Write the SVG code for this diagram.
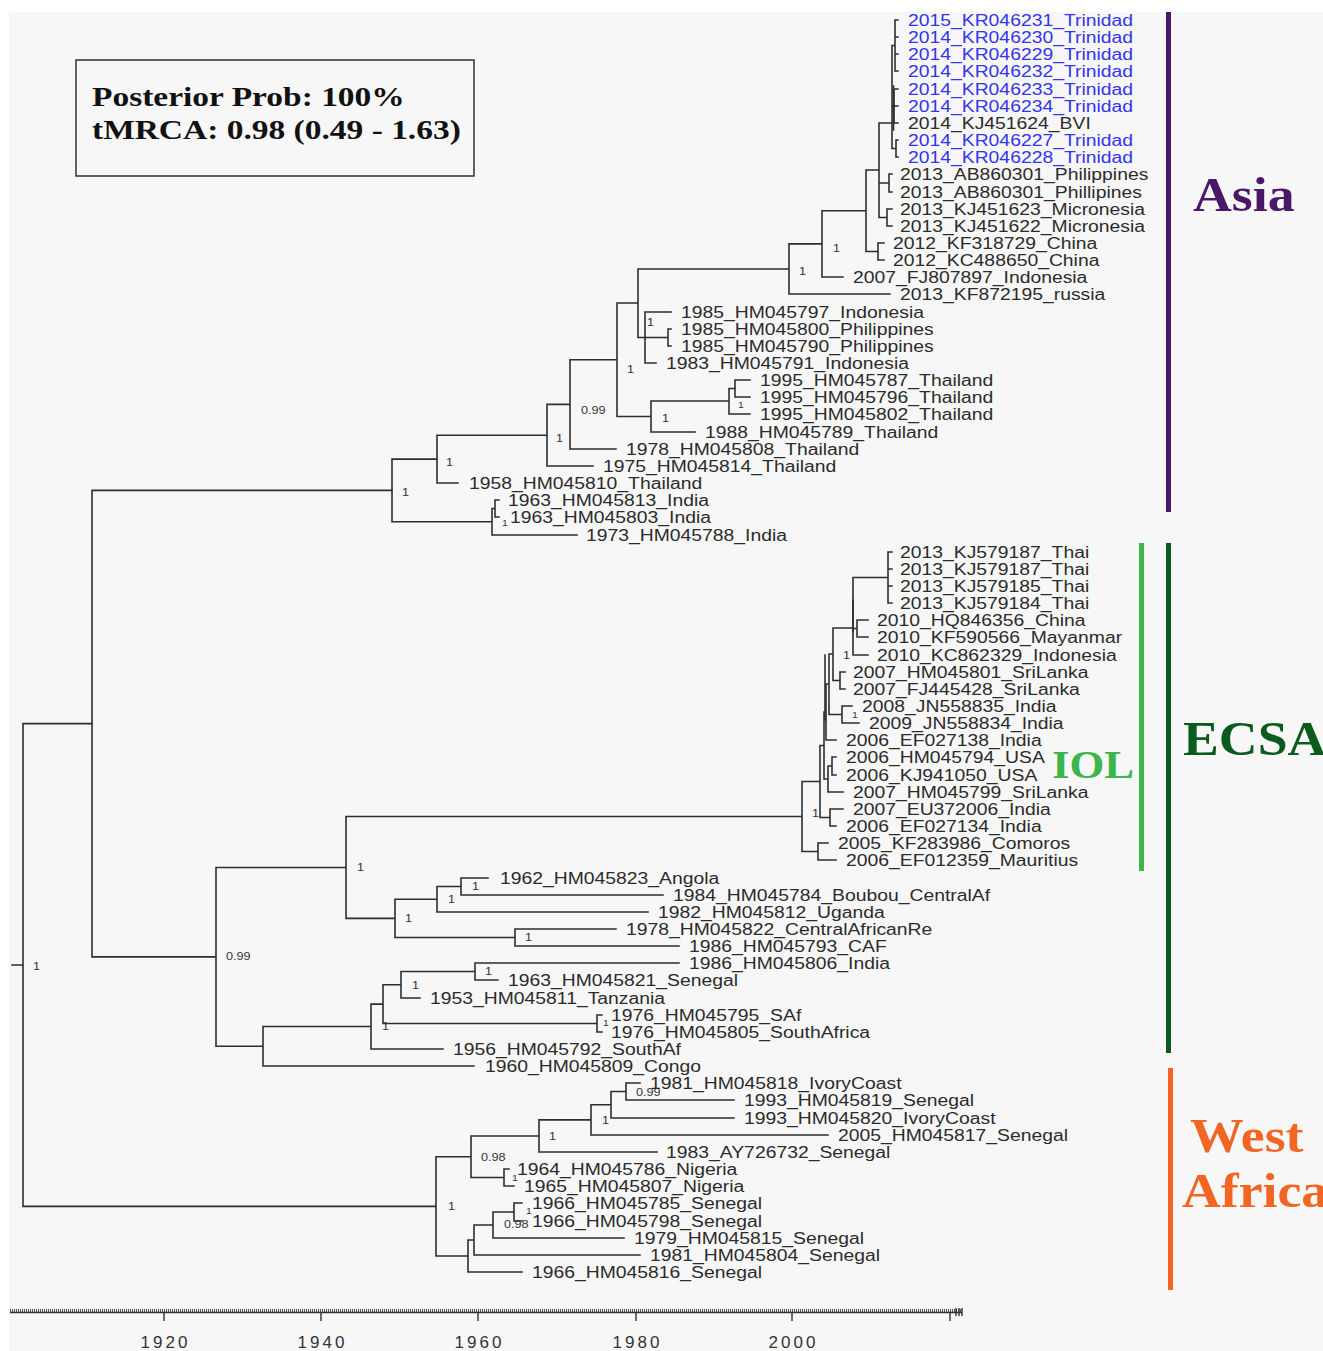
<svg xmlns="http://www.w3.org/2000/svg" width="1323" height="1351" viewBox="0 0 1323 1351">
<style>
.br{fill:none;stroke:#2e2e2e;stroke-width:1.6;stroke-linecap:square}
.lf{font-family:"Liberation Sans",Arial,sans-serif;font-size:16.4px;fill:#2b2b2b;transform-box:fill-box;transform-origin:0 50%;transform:scaleX(1.18)}
.tr{fill:#3434f0}
.sp{font-family:"Liberation Sans",Arial,sans-serif;font-size:11.5px;fill:#333;transform-box:fill-box;transform-origin:0 50%;transform:scaleX(1.1)}
.sm{font-size:9.5px}
.ax{font-family:"Liberation Sans",Arial,sans-serif;font-size:17px;fill:#333;text-anchor:middle;letter-spacing:3px}
.box{font-family:"Liberation Serif","Times New Roman",serif;font-weight:bold;font-size:28px;fill:#111;transform-box:fill-box;transform-origin:0 50%;transform:scaleX(1.195)}
.grp{font-family:"Liberation Serif","Times New Roman",serif;font-weight:bold;font-size:48px;transform-box:fill-box;transform-origin:0 50%;transform:scaleX(1.12)}
</style>
<rect x="0" y="0" width="1323" height="1351" fill="#ffffff"/>
<rect x="9" y="12" width="1314" height="1339" fill="#f7f7f7"/>

<g id="legend-box">
<rect x="76" y="60" width="398" height="116" fill="none" stroke="#333" stroke-width="1.5"/>
<text class="box" x="92" y="106">Posterior Prob: 100%</text>
<text class="box" x="92" y="139">tMRCA: 0.98 (0.49 - 1.63)</text>
</g>

<g id="connectors">
<path class="br" d="M895,20V71 M895,20H898 M895,37H898 M895,54H898 M895,71H898 M894,89V123 M894,89H898 M894,106H898 M894,123H898 M896,140V157 M896,140H898 M896,157H898 M892,45.5V148.5 M892,45.5H895 M892,106H894 M892,148.5H896 M879,123V217.5 M879,123H892 M879,183H889 M879,217.5H887 M889,174V192 M889,174H892 M889,192H892 M887,209V226 M887,209H892 M887,226H892 M878,243V260 M878,243H884 M878,260H884 M866,170V251.5 M866,170H879 M866,251.5H878 M822,210.75V277 M822,210.75H866 M822,277H843 M789,243.9V294 M789,243.9H822 M789,294H890 M645,312V363 M645,312H671 M645,337.5H668 M645,363H656 M668,329V346 M668,329H671 M668,346H671 M638,269V337.5 M638,269H789 M638,337.5H645 M735,380V397 M735,380H750 M735,397H750 M729,388.5V414 M729,388.5H735 M729,414H750 M651,401V432 M651,401H729 M651,432H695 M617,303V416.5 M617,303H638 M617,416.5H651 M570,359.75V449 M570,359.75H617 M570,449H616 M547,404.4V466 M547,404.4H570 M547,466H593 M437,435.2V483 M437,435.2H547 M437,483H458 M495,500V517 M495,500H499 M495,517H499 M492,508.5V535 M492,508.5H495 M492,535H577 M392,459.1V521.75 M392,459.1H437 M392,521.75H492"/>
<path class="br" stroke-width="3.5" d="M893.5,86V130"/>
<path class="br" d="M888,552V603 M888,552H892 M888,569H892 M888,586H892 M888,603H892 M857,620V637 M857,620H868 M857,637H868 M853,577.5V655 M853,577.5H888 M853,628.5H857 M853,655H868 M840,672V689 M840,672H845 M840,689H845 M842,706V723 M842,706H852 M842,723H859 M832,757V775 M832,757H836 M832,775H836 M830,809V826 M830,809H843 M830,826H836 M818,843V860 M818,843H828 M818,860H836 M833,628V680.5 M833,628H853 M833,680.5H840 M829,654V714.5 M829,654H833 M829,714.5H842 M826,684V740 M826,684H829 M826,740H836 M828,766V792 M828,766H832 M828,792H843 M824,712V779 M824,712H826 M824,779H828 M820,745.5V817.5 M820,745.5H824 M820,817.5H830 M802,781.5V851.5 M802,781.5H820 M802,851.5H818 M461,878V895 M461,878H488 M461,895H663 M437,886.5V912 M437,886.5H461 M437,912H648 M515,929V946 M515,929H616 M515,946H679 M395,899.25V937.5 M395,899.25H437 M395,937.5H515 M346,816.5V918.4 M346,816.5H802 M346,918.4H395 M475,963V980 M475,963H679 M475,980H498 M401,971.5V998 M401,971.5H475 M401,998H420 M597,1015V1032 M597,1015H602 M597,1032H602 M383,984.75V1023.5 M383,984.75H401 M383,1023.5H597 M371,1004.1V1049 M371,1004.1H383 M371,1049H443 M263,1026.5V1066 M263,1026.5H371 M263,1066H474 M216,867.5V1046.25 M216,867.5H346 M216,1046.25H263 M92,490.4V956.9 M92,490.4H392 M92,956.9H216"/>
<path class="br" stroke-width="2.6" d="M853,600V632 M825,655V720"/>
<path class="br" d="M626,1083V1100 M626,1083H640 M626,1100H734 M611,1091.5V1118 M611,1091.5H626 M611,1118H734 M591,1104.75V1135 M591,1104.75H611 M591,1135H828 M539,1119.9V1152 M539,1119.9H591 M539,1152H657 M504,1169V1186 M504,1169H509 M504,1186H514 M471,1136V1177.5 M471,1136H539 M471,1177.5H504 M514,1203V1221 M514,1203H522 M514,1221H522 M493,1212V1238 M493,1212H514 M493,1238H624 M474,1225V1255 M474,1225H493 M474,1255H640 M468,1240V1272 M468,1240H474 M468,1272H522 M436,1156.75V1256 M436,1156.75H471 M436,1256H468 M23,723.6V1206.4 M23,723.6H92 M23,1206.4H436 M12,965H23"/>
</g>

<g id="support-labels">
<text class="sp" x="33" y="970">1</text>
<text class="sp" x="402" y="496">1</text>
<text class="sp" x="446" y="466">1</text>
<text class="sp" x="556" y="442">1</text>
<text class="sp" x="581" y="414">0.99</text>
<text class="sp" x="627" y="373">1</text>
<text class="sp" x="647" y="326">1</text>
<text class="sp" x="662" y="422">1</text>
<text class="sp sm" x="738" y="408">1</text>
<text class="sp" x="799" y="275">1</text>
<text class="sp" x="833" y="252">1</text>
<text class="sp sm" x="502" y="526">1</text>
<text class="sp" x="843" y="659">1</text>
<text class="sp sm" x="852" y="718">1</text>
<text class="sp" x="812" y="817">1</text>
<text class="sp" x="357" y="871">1</text>
<text class="sp" x="472" y="890">1</text>
<text class="sp" x="448" y="903">1</text>
<text class="sp" x="405" y="922">1</text>
<text class="sp" x="525" y="941">1</text>
<text class="sp" x="485" y="975">1</text>
<text class="sp" x="412" y="989">1</text>
<text class="sp" x="382" y="1030">1</text>
<text class="sp sm" x="603" y="1026">1</text>
<text class="sp" x="226" y="960">0.99</text>
<text class="sp" x="636" y="1096">0.99</text>
<text class="sp" x="602" y="1124">1</text>
<text class="sp" x="549" y="1140">1</text>
<text class="sp" x="481" y="1161">0.98</text>
<text class="sp sm" x="512" y="1181">1</text>
<text class="sp sm" x="526" y="1214">1</text>
<text class="sp" x="504" y="1228">0.98</text>
<text class="sp" x="448" y="1210">1</text>
</g>

<g id="leaves">
<g id="leaf1"><text class="lf tr" x="908" y="26">2015_KR046231_Trinidad</text></g>
<g id="leaf2"><text class="lf tr" x="908" y="43">2014_KR046230_Trinidad</text></g>
<g id="leaf3"><text class="lf tr" x="908" y="60">2014_KR046229_Trinidad</text></g>
<g id="leaf4"><text class="lf tr" x="908" y="77">2014_KR046232_Trinidad</text></g>
<g id="leaf5"><text class="lf tr" x="908" y="95">2014_KR046233_Trinidad</text></g>
<g id="leaf6"><text class="lf tr" x="908" y="112">2014_KR046234_Trinidad</text></g>
<g id="leaf7"><text class="lf" x="908" y="129">2014_KJ451624_BVI</text></g>
<g id="leaf8"><text class="lf tr" x="908" y="146">2014_KR046227_Trinidad</text></g>
<g id="leaf9"><text class="lf tr" x="908" y="163">2014_KR046228_Trinidad</text></g>
<g id="leaf10"><text class="lf" x="900" y="180">2013_AB860301_Philippines</text></g>
<g id="leaf11"><text class="lf" x="900" y="198">2013_AB860301_Phillipines</text></g>
<g id="leaf12"><text class="lf" x="900" y="215">2013_KJ451623_Micronesia</text></g>
<g id="leaf13"><text class="lf" x="900" y="232">2013_KJ451622_Micronesia</text></g>
<g id="leaf14"><text class="lf" x="893" y="249">2012_KF318729_China</text></g>
<g id="leaf15"><text class="lf" x="893" y="266">2012_KC488650_China</text></g>
<g id="leaf16"><text class="lf" x="853" y="283">2007_FJ807897_Indonesia</text></g>
<g id="leaf17"><text class="lf" x="900" y="300">2013_KF872195_russia</text></g>
<g id="leaf18"><text class="lf" x="681" y="318">1985_HM045797_Indonesia</text></g>
<g id="leaf19"><text class="lf" x="681" y="335">1985_HM045800_Philippines</text></g>
<g id="leaf20"><text class="lf" x="681" y="352">1985_HM045790_Philippines</text></g>
<g id="leaf21"><text class="lf" x="666" y="369">1983_HM045791_Indonesia</text></g>
<g id="leaf22"><text class="lf" x="760" y="386">1995_HM045787_Thailand</text></g>
<g id="leaf23"><text class="lf" x="760" y="403">1995_HM045796_Thailand</text></g>
<g id="leaf24"><text class="lf" x="760" y="420">1995_HM045802_Thailand</text></g>
<g id="leaf25"><text class="lf" x="705" y="438">1988_HM045789_Thailand</text></g>
<g id="leaf26"><text class="lf" x="626" y="455">1978_HM045808_Thailand</text></g>
<g id="leaf27"><text class="lf" x="603" y="472">1975_HM045814_Thailand</text></g>
<g id="leaf28"><text class="lf" x="469" y="489">1958_HM045810_Thailand</text></g>
<g id="leaf29"><text class="lf" x="508" y="506">1963_HM045813_India</text></g>
<g id="leaf30"><text class="lf" x="510" y="523">1963_HM045803_India</text></g>
<g id="leaf31"><text class="lf" x="586" y="541">1973_HM045788_India</text></g>
<g id="leaf32"><text class="lf" x="900" y="558">2013_KJ579187_Thai</text></g>
<g id="leaf33"><text class="lf" x="900" y="575">2013_KJ579187_Thai</text></g>
<g id="leaf34"><text class="lf" x="900" y="592">2013_KJ579185_Thai</text></g>
<g id="leaf35"><text class="lf" x="900" y="609">2013_KJ579184_Thai</text></g>
<g id="leaf36"><text class="lf" x="877" y="626">2010_HQ846356_China</text></g>
<g id="leaf37"><text class="lf" x="877" y="643">2010_KF590566_Mayanmar</text></g>
<g id="leaf38"><text class="lf" x="877" y="661">2010_KC862329_Indonesia</text></g>
<g id="leaf39"><text class="lf" x="853" y="678">2007_HM045801_SriLanka</text></g>
<g id="leaf40"><text class="lf" x="853" y="695">2007_FJ445428_SriLanka</text></g>
<g id="leaf41"><text class="lf" x="862" y="712">2008_JN558835_India</text></g>
<g id="leaf42"><text class="lf" x="869" y="729">2009_JN558834_India</text></g>
<g id="leaf43"><text class="lf" x="846" y="746">2006_EF027138_India</text></g>
<g id="leaf44"><text class="lf" x="846" y="763">2006_HM045794_USA</text></g>
<g id="leaf45"><text class="lf" x="846" y="781">2006_KJ941050_USA</text></g>
<g id="leaf46"><text class="lf" x="853" y="798">2007_HM045799_SriLanka</text></g>
<g id="leaf47"><text class="lf" x="853" y="815">2007_EU372006_India</text></g>
<g id="leaf48"><text class="lf" x="846" y="832">2006_EF027134_India</text></g>
<g id="leaf49"><text class="lf" x="838" y="849">2005_KF283986_Comoros</text></g>
<g id="leaf50"><text class="lf" x="846" y="866">2006_EF012359_Mauritius</text></g>
<g id="leaf51"><text class="lf" x="500" y="884">1962_HM045823_Angola</text></g>
<g id="leaf52"><text class="lf" x="673" y="901">1984_HM045784_Boubou_CentralAf</text></g>
<g id="leaf53"><text class="lf" x="658" y="918">1982_HM045812_Uganda</text></g>
<g id="leaf54"><text class="lf" x="626" y="935">1978_HM045822_CentralAfricanRe</text></g>
<g id="leaf55"><text class="lf" x="689" y="952">1986_HM045793_CAF</text></g>
<g id="leaf56"><text class="lf" x="689" y="969">1986_HM045806_India</text></g>
<g id="leaf57"><text class="lf" x="508" y="986">1963_HM045821_Senegal</text></g>
<g id="leaf58"><text class="lf" x="430" y="1004">1953_HM045811_Tanzania</text></g>
<g id="leaf59"><text class="lf" x="611" y="1021">1976_HM045795_SAf</text></g>
<g id="leaf60"><text class="lf" x="611" y="1038">1976_HM045805_SouthAfrica</text></g>
<g id="leaf61"><text class="lf" x="453" y="1055">1956_HM045792_SouthAf</text></g>
<g id="leaf62"><text class="lf" x="485" y="1072">1960_HM045809_Congo</text></g>
<g id="leaf63"><text class="lf" x="650" y="1089">1981_HM045818_IvoryCoast</text></g>
<g id="leaf64"><text class="lf" x="744" y="1106">1993_HM045819_Senegal</text></g>
<g id="leaf65"><text class="lf" x="744" y="1124">1993_HM045820_IvoryCoast</text></g>
<g id="leaf66"><text class="lf" x="838" y="1141">2005_HM045817_Senegal</text></g>
<g id="leaf67"><text class="lf" x="666" y="1158">1983_AY726732_Senegal</text></g>
<g id="leaf68"><text class="lf" x="517" y="1175">1964_HM045786_Nigeria</text></g>
<g id="leaf69"><text class="lf" x="524" y="1192">1965_HM045807_Nigeria</text></g>
<g id="leaf70"><text class="lf" x="532" y="1209">1966_HM045785_Senegal</text></g>
<g id="leaf71"><text class="lf" x="532" y="1227">1966_HM045798_Senegal</text></g>
<g id="leaf72"><text class="lf" x="634" y="1244">1979_HM045815_Senegal</text></g>
<g id="leaf73"><text class="lf" x="650" y="1261">1981_HM045804_Senegal</text></g>
<g id="leaf74"><text class="lf" x="532" y="1278">1966_HM045816_Senegal</text></g>
</g>

<g id="clade-asia">
<rect x="1166" y="12" width="5" height="500" fill="#4b1869"/>
<text class="grp" x="1193" y="211" fill="#4b1869">Asia</text>
</g>
<g id="clade-iol">
<rect x="1139" y="543" width="5" height="328" fill="#3cb54a"/>
<text class="grp" x="1052" y="778" fill="#3cb54a" style="font-size:40px">IOL</text>
</g>
<g id="clade-ecsa">
<rect x="1166" y="543" width="5" height="510" fill="#0b5a1e"/>
<text class="grp" x="1183" y="755" fill="#0b5a1e">ECSA</text>
</g>
<g id="clade-westafrica">
<rect x="1168" y="1068" width="5" height="222" fill="#f26522"/>
<text class="grp" x="1190" y="1152" fill="#f26522">West</text>
<text class="grp" x="1182" y="1207" fill="#f26522">Africa</text>
</g>

<g id="time-axis">
<line x1="10" y1="1310.5" x2="962" y2="1310.5" stroke="#555" stroke-width="3" stroke-dasharray="1 1"/>
<line x1="10" y1="1312.5" x2="962" y2="1312.5" stroke="#333" stroke-width="1.4"/>
<path d="M164,1312V1321 M321,1312V1321 M478,1312V1321 M636,1312V1321 M792,1312V1321 M950,1312V1321 M956,1308V1316 M959,1308V1316 M962,1308V1316" stroke="#333" stroke-width="1.4" fill="none"/>
<text class="ax" x="165.5" y="1348">1920</text>
<text class="ax" x="322.5" y="1348">1940</text>
<text class="ax" x="479.5" y="1348">1960</text>
<text class="ax" x="637.5" y="1348">1980</text>
<text class="ax" x="793.5" y="1348">2000</text>
</g>
</svg>
